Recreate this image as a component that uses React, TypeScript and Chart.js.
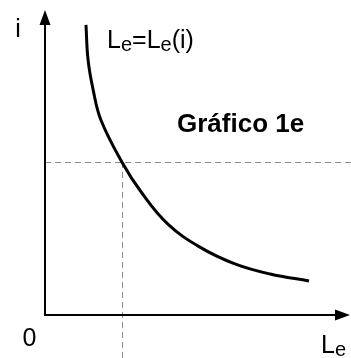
import React, { useEffect, useRef } from "react";
import { Chart, registerables } from "chart.js";

Chart.register(...registerables);

// Demand curve Le = Le(i), sampled along its length
const curveX = [1.37, 1.44, 1.61, 1.87, 2.57, 3.24, 4.11, 5.18, 6.35, 7.53, 8.83];
const curveY = [9.7, 8.53, 7.53, 6.52, 5.12, 4.08, 3.04, 2.27, 1.71, 1.37, 1.14];

// Reference point marked by the dashed guides
const refX = 2.57;
const refY = 5.12;

// Axis extents
const xMax = 10.2;
const yMax = 10.2;

const FONT = "'Liberation Sans', Arial, sans-serif";

function drawSubscripted(
  ctx: CanvasRenderingContext2D,
  parts: { text: string; sub?: boolean }[],
  x: number,
  y: number,
  size: number
) {
  let cx = x;
  ctx.textAlign = "left";
  ctx.textBaseline = "alphabetic";
  for (const p of parts) {
    const s = p.sub ? Math.round(size * 0.78) : size;
    ctx.font = `${s}px ${FONT}`;
    ctx.fillText(p.text, cx, p.sub ? y + 3 : y);
    cx += ctx.measureText(p.text).width;
  }
}

const axesPlugin = {
  id: "arrowAxes",
  beforeDatasetsDraw(chart: any) {
    const { ctx, scales } = chart;
    const xs = scales.x;
    const ys = scales.y;
    const px = xs.getPixelForValue(refX);
    const py = ys.getPixelForValue(refY);
    const x0 = xs.getPixelForValue(0);
    ctx.save();
    ctx.strokeStyle = "#8a8a8a";
    ctx.lineWidth = 1;
    ctx.setLineDash([6, 4]);
    ctx.beginPath();
    ctx.moveTo(x0, Math.round(py) + 0.5);
    ctx.lineTo(chart.width, Math.round(py) + 0.5);
    ctx.moveTo(Math.round(px) + 0.5, py);
    ctx.lineTo(Math.round(px) + 0.5, chart.height);
    ctx.stroke();
    ctx.restore();
  },
  afterDraw(chart: any) {
    const { ctx, scales, chartArea } = chart;
    const xs = scales.x;
    const ys = scales.y;
    const x0 = xs.getPixelForValue(0);
    const y0 = ys.getPixelForValue(0);
    const top = chartArea.top;
    const right = chartArea.right;

    ctx.save();
    ctx.strokeStyle = "#000";
    ctx.fillStyle = "#000";
    ctx.lineWidth = 2;
    ctx.setLineDash([]);
    // axis lines
    ctx.beginPath();
    ctx.moveTo(x0, y0);
    ctx.lineTo(x0, top + 12);
    ctx.moveTo(x0 - 1, y0);
    ctx.lineTo(right - 12, y0);
    ctx.stroke();
    // arrow heads
    ctx.beginPath();
    ctx.moveTo(x0, top);
    ctx.lineTo(x0 - 5.5, top + 15);
    ctx.lineTo(x0 + 5.5, top + 15);
    ctx.closePath();
    ctx.fill();
    ctx.beginPath();
    ctx.moveTo(right, y0);
    ctx.lineTo(right - 15, y0 - 5.5);
    ctx.lineTo(right - 15, y0 + 5.5);
    ctx.closePath();
    ctx.fill();

    // labels
    ctx.textBaseline = "alphabetic";
    ctx.font = `25px ${FONT}`;
    ctx.textAlign = "center";
    ctx.fillText("i", x0 - 27, top + 27);
    ctx.fillText("0", x0 - 15.5, y0 + 31);

    drawSubscripted(ctx, [{ text: "L" }, { text: "e", sub: true }], right - 29, y0 + 38, 25);
    drawSubscripted(
      ctx,
      [
        { text: "L" },
        { text: "e", sub: true },
        { text: "=L" },
        { text: "e", sub: true },
        { text: "(i)" },
      ],
      x0 + 62,
      top + 38,
      25
    );

    ctx.font = `bold 26px ${FONT}`;
    ctx.textAlign = "left";
    ctx.fillText("Gráfico 1e", x0 + 132, top + 122);
    ctx.restore();
  },
};

export default function App() {
  const canvasRef = useRef<HTMLCanvasElement | null>(null);

  useEffect(() => {
    if (!canvasRef.current) return;
    const chart = new Chart(canvasRef.current, {
      type: "scatter",
      data: {
        datasets: [
          {
            data: curveX.map((x, i) => ({ x, y: curveY[i] })),
            showLine: true,
            borderColor: "#000",
            borderWidth: 3,
            pointRadius: 0,
            tension: 0.4,
            fill: false,
          },
        ],
      },
      options: {
        animation: false,
        responsive: false,
        devicePixelRatio: 1,
        layout: { padding: { left: 45, top: 10, right: 1, bottom: 43 } },
        scales: {
          x: { type: "linear", min: 0, max: xMax, display: false },
          y: { type: "linear", min: 0, max: yMax, display: false },
        },
        plugins: {
          legend: { display: false },
          tooltip: { enabled: false },
        },
      },
      plugins: [axesPlugin],
    });
    return () => chart.destroy();
  }, []);

  return (
    <div style={{ position: "absolute", left: 0, top: 0, width: 351, height: 358, background: "#fff" }}>
      <canvas ref={canvasRef} width={351} height={358} style={{ display: "block" }} />
    </div>
  );
}
